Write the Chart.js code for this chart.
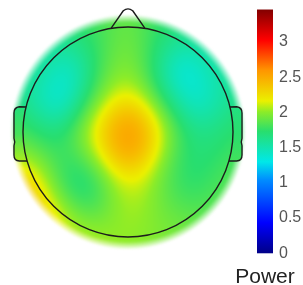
<!DOCTYPE html>
<html>
<head>
<meta charset="utf-8">
<script src="https://cdn.jsdelivr.net/npm/chart.js@4/dist/chart.umd.min.js"></script>
<style>
  html, body { margin: 0; padding: 0; background: #ffffff; }
  canvas { display: block; }
</style>
</head>
<body>
<canvas id="topo" width="303" height="285"></canvas>
<script>
// sensor positions on the unit head (nose up) and their power
const sensorX = [
  -0.35, 0, 0.35,
  -0.65, -0.3, 0, 0.3, 0.65,
  -0.85, -0.55, -0.25, 0, 0.25, 0.5, 0.8,
  -0.95, -0.65, -0.35, 0, 0.35, 0.65, 0.95,
  -1.05, -0.75, -0.4, -0.15, 0.1, 0.4, 0.75, 1.05,
  -0.95, -0.65, -0.35, 0, 0.35, 0.65, 0.95,
  -0.95, -0.65, -0.4, -0.15, 0.1, 0.35, 0.55, 0.85,
  -0.75, -0.4, 0, 0.4, 0.75,
  -0.45, 0, 0.45,
  0.02,
]
const sensorY = [
  1.05, 1.05, 1.05,
  0.85, 0.85, 0.85, 0.85, 0.85,
  0.6, 0.6, 0.6, 0.6, 0.6, 0.6, 0.6,
  0.3, 0.3, 0.3, 0.3, 0.3, 0.3, 0.3,
  0, 0, 0, 0, 0, 0, 0, 0,
  -0.25, -0.25, -0.25, -0.25, -0.25, -0.25, -0.25,
  -0.5, -0.5, -0.5, -0.5, -0.5, -0.5, -0.5, -0.5,
  -0.75, -0.75, -0.75, -0.75, -0.75,
  -1.0, -1.0, -1.0,
  -0.1,
]
const sensorPower = [
  1.8, 1.9, 1.75,
  1.7, 1.7, 2.05, 1.65, 1.7,
  1.7, 1.15, 1.85, 2.1, 1.75, 0.95, 1.65,
  1.65, 1.1, 1.9, 2.35, 1.8, 1.2, 1.65,
  1.85, 1.6, 1.95, 2.55, 2.6, 1.85, 1.6, 1.8,
  2.05, 1.7, 1.95, 2.55, 1.9, 1.6, 1.85,
  2.7, 1.7, 1.3, 2.05, 2.15, 1.9, 1.55, 1.9,
  2.5, 1.85, 2.05, 1.95, 1.9,
  2.15, 2.0, 1.95,
  2.85,
]

const colorbarTicks = [0, 0.5, 1, 1.5, 2, 2.5, 3]
const powerMin = 0
const powerMax = 3.46

// jet-like colour stops, a little deeper in the greens like the source figure
const CMAP = [
  [0, [0, 0, 135]],
  [0.125, [0, 0, 255]],
  [0.3, [0, 140, 255]],
  [0.375, [0, 232, 232]],
  [0.5, [40, 222, 110]],
  [0.58, [140, 236, 40]],
  [0.625, [235, 240, 0]],
  [0.75, [255, 150, 0]],
  [0.875, [255, 0, 0]],
  [1, [130, 0, 0]],
]

const FONT = '"Liberation Sans", Arial, Helvetica, sans-serif'
const KERNEL = 0.2

function clamp01(v) { return Math.min(1, Math.max(0, v)) }

function colormap(t) {
  t = clamp01(t)
  for (let i = 1; i < CMAP.length; i++) {
    if (t <= CMAP[i][0]) {
      const [t0, c0] = CMAP[i - 1]
      const [t1, c1] = CMAP[i]
      const f = (t - t0) / (t1 - t0)
      return c0.map((c, k) => Math.round(c + (c1[k] - c) * f))
    }
  }
  return CMAP[CMAP.length - 1][1]
}

function powerAt(u, v) {
  let sw = 0
  let sv = 0
  for (let i = 0; i < sensorPower.length; i++) {
    const dx = u - sensorX[i]
    const dy = v - sensorY[i]
    const w = Math.exp(-(dx * dx + dy * dy) / (2 * KERNEL * KERNEL))
    sw += w
    sv += w * sensorPower[i]
  }
  return sw > 0 ? sv / sw : powerMin
}

const rgb = (c) => `rgb(${c[0]}, ${c[1]}, ${c[2]})`
const colorAt = (u, v) => colormap((powerAt(u, v) - powerMin) / (powerMax - powerMin))

const scalpMap = {
  id: 'scalpMap',
  beforeDatasetsDraw(chart) {
    const { ctx, chartArea, scales: { x, y } } = chart
    const px = (u) => x.getPixelForValue(u)
    const py = (v) => y.getPixelForValue(v)
    const cx = px(0)
    const cy = py(0)
    const R = px(1) - px(0)

    const x0 = Math.floor(chartArea.left)
    const y0 = Math.floor(chartArea.top)
    const w = Math.ceil(chartArea.right) - x0
    const h = Math.ceil(chartArea.bottom) - y0
    const off = document.createElement('canvas')
    off.width = w
    off.height = h
    const octx = off.getContext('2d')
    const img = octx.createImageData(w, h)
    for (let j = 0; j < h; j++) {
      const v = y.getValueForPixel(y0 + j + 0.5)
      for (let i = 0; i < w; i++) {
        const u = x.getValueForPixel(x0 + i + 0.5)
        const a = clamp01((1.12 - Math.hypot(u, v)) / 0.08)
        if (a <= 0) continue
        const c = colorAt(u, v)
        const k = (j * w + i) * 4
        img.data[k] = c[0]
        img.data[k + 1] = c[1]
        img.data[k + 2] = c[2]
        img.data[k + 3] = Math.round(a * 255)
      }
    }
    octx.putImageData(img, 0, 0)
    ctx.save()
    ctx.filter = 'blur(0.8px)'
    ctx.drawImage(off, x0, y0)
    ctx.restore()

    const earPath = (s) => {
      ctx.beginPath()
      ctx.moveTo(px(s * 0.971), py(0.238))
      ctx.lineTo(px(s * 1.035), py(0.24))
      ctx.quadraticCurveTo(px(s * 1.086), py(0.235), px(s * 1.086), py(0.18))
      ctx.lineTo(px(s * 1.086), py(-0.06))
      ctx.quadraticCurveTo(px(s * 1.072), py(-0.095), px(s * 1.086), py(-0.13))
      ctx.lineTo(px(s * 1.086), py(-0.22))
      ctx.quadraticCurveTo(px(s * 1.086), py(-0.276), px(s * 1.035), py(-0.276))
      ctx.lineTo(px(s * 0.961), py(-0.276))
    }

    // ears are filled with the map colour next to them
    ;[-1, 1].forEach((s) => {
      const a1 = Math.atan2(py(-0.276) - cy, px(s * 0.961) - cx)
      const a2 = Math.atan2(py(0.238) - cy, px(s * 0.971) - cx)
      const grad = ctx.createLinearGradient(0, py(0.24), 0, py(-0.28))
      grad.addColorStop(0, rgb(colorAt(s * 1.03, 0.2)))
      grad.addColorStop(0.5, rgb(colorAt(s * 1.03, 0)))
      grad.addColorStop(1, rgb(colorAt(s * 1.03, -0.25)))
      ctx.save()
      earPath(s)
      ctx.arc(cx, cy, R, a1, a2, s > 0)
      ctx.closePath()
      ctx.fillStyle = grad
      ctx.fill()
      ctx.restore()
    })

    // head outline, nose and ears
    ctx.save()
    ctx.strokeStyle = '#1c1c1c'
    ctx.lineWidth = 1.4
    ctx.lineJoin = 'round'
    ctx.beginPath()
    ctx.arc(cx, cy, R, 0, Math.PI * 2)
    ctx.stroke()

    ctx.beginPath()
    ctx.moveTo(px(-0.16), py(0.99))
    ctx.lineTo(px(-0.045), py(1.155))
    ctx.quadraticCurveTo(px(0), py(1.19), px(0.045), py(1.155))
    ctx.lineTo(px(0.16), py(0.99))
    ctx.stroke()

    ;[-1, 1].forEach((s) => {
      earPath(s)
      ctx.stroke()
    })
    ctx.restore()
  },
  afterDraw(chart) {
    const { ctx } = chart
    const cb = chart.scales.cbar
    const left = cb.left + 3
    const top = cb.getPixelForValue(powerMax)
    const bottom = cb.getPixelForValue(powerMin)
    const grad = ctx.createLinearGradient(0, bottom, 0, top)
    CMAP.forEach(([t, c]) => grad.addColorStop(t, rgb(c)))
    ctx.save()
    ctx.fillStyle = grad
    ctx.fillRect(left, top, 16, bottom - top)

    ctx.fillStyle = '#222222'
    ctx.font = `21px ${FONT}`
    ctx.textAlign = 'center'
    ctx.textBaseline = 'alphabetic'
    ctx.fillText('Power', left + 8, chart.height - 2)
    ctx.restore()
  },
}

new Chart(document.getElementById('topo'), {
  type: 'scatter',
  data: {
    datasets: [{
      label: 'Power',
      data: sensorX.map((u, i) => ({ x: u, y: sensorY[i] })),
      pointRadius: 0,
      pointHoverRadius: 0,
    }],
  },
  options: {
    responsive: false,
    animation: false,
    events: [],
    layout: { padding: { left: 2, top: 6, bottom: 27, right: 0 } },
    scales: {
      x: { type: 'linear', min: -1.2, max: 1.2, display: false },
      y: { type: 'linear', min: -1.2, max: 1.2, display: false },
      cbar: {
        type: 'linear',
        axis: 'y',
        position: 'right',
        min: -0.067,
        max: 3.51,
        // invisible tick marks push the labels clear of the colour bar
        grid: { display: true, drawOnChartArea: false, drawTicks: true, tickLength: 25, color: 'rgba(0,0,0,0)' },
        border: { display: false },
        afterBuildTicks: (scale) => { scale.ticks = colorbarTicks.map((value) => ({ value })) },
        afterFit: (scale) => { scale.width = 49 },
        ticks: {
          autoSkip: false,
          padding: 0,
          color: '#555555',
          font: { size: 16, family: FONT, lineHeight: 0.7 },
          callback: (value) => String(value),
        },
      },
    },
    plugins: { legend: { display: false }, tooltip: { enabled: false } },
  },
  plugins: [scalpMap],
})
</script>
</body>
</html>
